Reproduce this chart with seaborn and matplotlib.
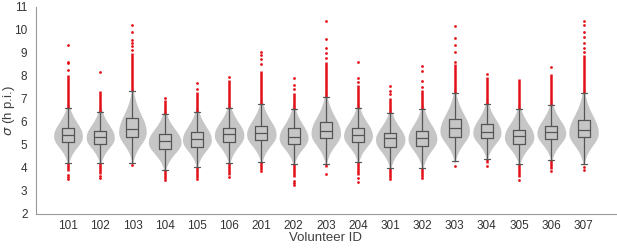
import numpy as np
import pandas as pd
import matplotlib
matplotlib.use("Agg")
import matplotlib.pyplot as plt
import seaborn as sns

ids = ['101', '102', '103', '104', '105', '106', '201', '202', '203',
       '204', '301', '302', '303', '304', '305', '306', '307']

# box summaries (lower whisker, q1, median, q3, upper whisker)
whis_lo = [4.23, 4.23, 4.23, 3.91, 4.06, 4.23, 4.25, 4.16, 4.17, 4.25, 3.99, 4.01, 4.30, 4.40, 4.16, 4.35, 4.17]
q1 = [5.12, 5.04, 5.36, 4.83, 4.90, 5.14, 5.22, 5.03, 5.29, 5.12, 4.93, 4.97, 5.36, 5.29, 5.04, 5.25, 5.33]
med = [5.43, 5.36, 5.70, 5.17, 5.26, 5.47, 5.51, 5.36, 5.62, 5.43, 5.29, 5.30, 5.73, 5.58, 5.39, 5.55, 5.65]
q3 = [5.75, 5.62, 6.16, 5.47, 5.58, 5.75, 5.84, 5.72, 6.01, 5.75, 5.53, 5.62, 6.13, 5.90, 5.65, 5.84, 6.09]
whis_hi = [6.62, 6.45, 7.36, 6.35, 6.45, 6.62, 6.77, 6.57, 7.10, 6.60, 6.38, 6.57, 7.25, 6.77, 6.55, 6.74, 7.25]

# outliers: dense runs beyond the whiskers + isolated points
dense_hi = [8.05, 7.36, 9.00, 6.95, 7.30, 7.83, 8.20, 7.25, 8.60, 7.60, 7.03, 7.40, 8.50, 7.97, 7.87, 8.10, 8.90]
dense_lo = [3.85, 3.75, 4.23, 3.50, 3.55, 3.70, 3.90, 3.60, 4.05, 3.70, 3.55, 3.60, 4.30, 4.20, 3.60, 3.95, 4.17]
sparse_hi = [[8.25, 8.55, 8.62, 9.35], [8.19], [9.15, 9.3, 9.45, 9.57, 9.9, 10.22], [7.02],
             [7.45, 7.68], [7.94], [8.5, 8.75, 8.9, 9.03], [7.45, 7.6, 7.9],
             [8.8, 9.0, 9.2, 9.6, 10.39], [7.75, 7.9, 8.62], [7.2, 7.35, 7.57],
             [7.5, 7.8, 8.2, 8.43], [8.62, 9.03, 9.35, 9.67, 10.19], [8.09], [],
             [8.41], [9.05, 9.2, 9.45, 9.7, 9.9, 10.2, 10.4]]
sparse_lo = [[3.7, 3.6, 3.53], [3.65, 3.58], [4.12], [3.48], [3.5], [3.62], [3.87],
             [3.45, 3.35, 3.26], [3.73], [3.55, 3.4], [3.51], [3.57], [4.1], [4.1],
             [3.48], [3.88], [4.05, 3.91]]

# violin outline: bottom tip, widest level, top tip, half width
vio_lo = [4.10, 4.10, 4.15, 3.80, 3.95, 4.10, 4.15, 4.05, 4.10, 4.15, 3.90, 3.90, 4.20, 4.30, 4.05, 4.25, 4.10]
vio_peak = [5.38, 5.32, 5.55, 5.12, 5.22, 5.42, 5.45, 5.30, 5.50, 5.40, 5.22, 5.27, 5.60, 5.52, 5.33, 5.50, 5.52]
vio_hi = [6.95, 6.80, 7.60, 6.65, 6.80, 6.95, 7.10, 6.90, 7.40, 6.95, 6.70, 6.90, 7.55, 7.10, 6.90, 7.05, 7.55]
vio_half = [0.45, 0.44, 0.43, 0.51, 0.45, 0.46, 0.46, 0.45, 0.46, 0.45, 0.46, 0.45, 0.46, 0.44, 0.46, 0.45, 0.46]

# shared relative violin profile (0 = widest, 1 = tip)
profile_t = [0, .1, .2, .3, .4, .5, .6, .7, .8, .9, 1.0]
profile_w = [1, .97, .88, .74, .58, .43, .30, .20, .12, .06, .02]

sns.set_style("white")
plt.rcParams['font.family'] = ['Liberation Sans', 'DejaVu Sans']

fig = plt.figure(figsize=(6.17, 2.49), dpi=100)
ax = fig.add_axes([0.058, 0.141, 0.940, 0.831])

pt = np.array(profile_t)
pw = np.array(profile_w)
red = '#e3101a'
for i in range(len(ids)):
    # violin body
    y_low = vio_peak[i] - pt[::-1] * (vio_peak[i] - vio_lo[i])
    y_up = vio_peak[i] + pt[1:] * (vio_hi[i] - vio_peak[i])
    ys = np.concatenate([y_low, y_up])
    ws = np.concatenate([pw[::-1], pw[1:]]) * vio_half[i]
    ax.fill_betweenx(ys, i - ws, i + ws, color='#c6c6c6', lw=0, zorder=1)
    # outliers
    ax.vlines(i, whis_hi[i], dense_hi[i], color=red, lw=1.8, zorder=2)
    if dense_lo[i] < whis_lo[i]:
        ax.vlines(i, dense_lo[i], whis_lo[i], color=red, lw=1.8, zorder=2)
    pts = sparse_hi[i] + sparse_lo[i]
    ax.scatter([i] * len(pts), pts, s=4, color=red, lw=0, zorder=2)

rows = []
for i, v in enumerate(ids):
    for val in (whis_lo[i], q1[i], med[i], q3[i], whis_hi[i]):
        rows.append({'id': v, 'sigma': val})
df = pd.DataFrame(rows)

sns.boxplot(data=df, x='id', y='sigma', order=ids, whis=(0, 100), width=0.37,
            fill=False, color='#555555', linewidth=0.9, showfliers=False,
            ax=ax, zorder=3)

ax.set_xlim(-1, 17)
ax.set_ylim(2, 11)
ax.set_yticks(range(2, 12))
ax.set_xlabel('Volunteer ID', fontsize=9.5, color='#404040', labelpad=0)
ax.set_ylabel(r'$\sigma$ (h p.i.)', fontsize=9.5, color='#404040')
ax.yaxis.set_label_coords(-0.033, 0.5)
ax.tick_params(axis='y', pad=6)
ax.tick_params(axis='x', pad=4.5)
ax.tick_params(direction='in', length=3, width=0.6, colors='#888888',
               labelcolor='#333333', labelsize=8.5)
sns.despine(ax=ax)
for s in ('left', 'bottom'):
    ax.spines[s].set_color('#999999')
    ax.spines[s].set_linewidth(0.8)

fig.savefig('out.png', dpi=100)
